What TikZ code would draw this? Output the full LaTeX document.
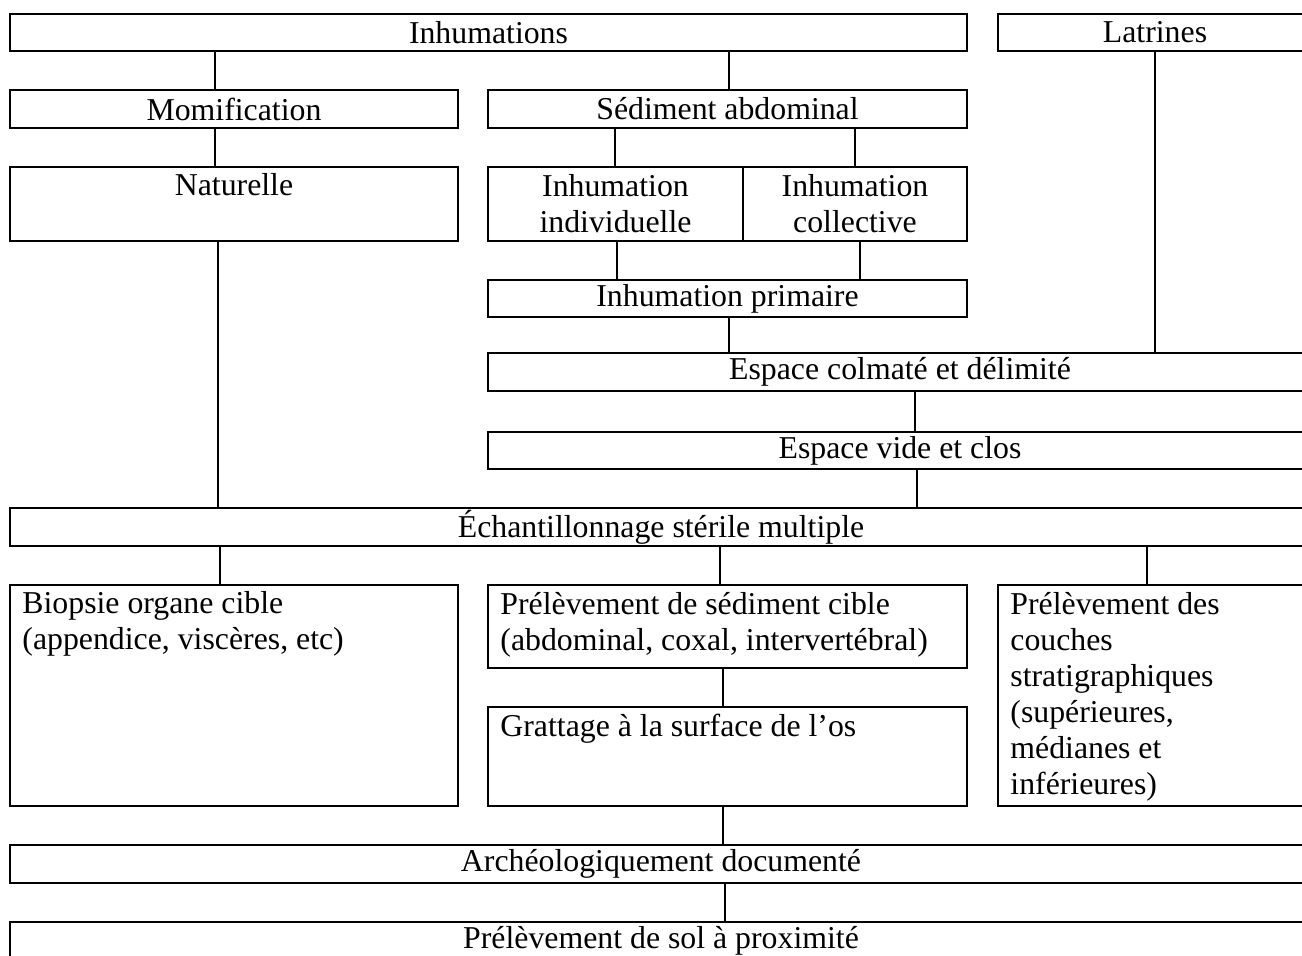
\documentclass[tikz,border=0pt]{standalone}
\usepackage{fontspec}
\setmainfont{Liberation Serif}

\begin{document}
\begin{tikzpicture}[
  x=0.02cm, y=-0.02cm,
  every node/.style={font=\fontsize{18.1}{20.5}\selectfont},
  box/.style={rectangle, draw=black, line width=1.1pt, inner sep=0pt, align=center, minimum height=0.75cm},
  boxtext/.style={anchor=north west, align=left, inner xsep=0.26cm, inner ysep=0.15cm},
  toptext/.style={anchor=north, align=center, inner ysep=0.15cm},
  link/.style={draw=black, line width=0.6pt},
]
\useasboundingbox (0,0) rectangle (1302,956);
\clip (0,0) rectangle (1302,956);

% Top row
\node[box, minimum width=19.14cm] (inh) at (488.5,32.5) {Inhumations};
\node[box, minimum width=6.28cm] (lat) at (1155,32.5) {Latrines};

\node[box, minimum width=8.96cm] (mom) at (234,109) {Momification};
\node[box, minimum width=9.58cm] (sed) at (727.5,109) {Sédiment abdominal};

\node[box, minimum width=8.96cm, minimum height=1.48cm] (nat) at (234,204) {};
\node[toptext] (natlab) at (nat.north) {Naturelle};
\node[box, minimum width=5.1cm, minimum height=1.48cm] (indiv) at (615.5,204) {Inhumation\\individuelle};
\node[box, minimum width=4.48cm, minimum height=1.48cm] (coll) at (855,204) {Inhumation\\collective};

\node[box, minimum width=9.58cm] (prim) at (727.5,298.5) {Inhumation primaire};

% Middle: spaces
\node[box, minimum width=16.48cm] (colm) at (900,372) {Espace colmaté et délimité};
\node[box, minimum width=16.48cm] (vide) at (900,450.5) {Espace vide et clos};

\node[box, minimum width=26.04cm] (ech) at (661,527) {Échantillonnage stérile multiple};

% Sampling boxes
\node[box, minimum width=8.96cm, minimum height=4.42cm] (biop) at (234,695.5) {};
\node[boxtext] (bioplab) at (biop.north west) {Biopsie organe cible\\(appendice, viscères, etc)};
\node[box, minimum width=9.58cm, minimum height=1.66cm] (sedc) at (727.5,626.5) {};
\node[boxtext] (sedclab) at (sedc.north west) {Prélèvement de sédiment cible\\(abdominal, coxal, intervertébral)};
\node[box, minimum width=9.58cm, minimum height=1.98cm] (gratt) at (727.5,756.5) {};
\node[boxtext] (grattlab) at (gratt.north west) {Grattage à la surface de l’os};
\node[box, minimum width=6.28cm, minimum height=4.42cm] (couch) at (1155,695.5) {};
\node[boxtext] (couchlab) at (couch.north west) {Prélèvement des\\couches\\stratigraphiques\\(supérieures,\\médianes et\\inférieures)};

% Bottom
\node[box, minimum width=26.04cm] (arch) at (661,864) {Archéologiquement documenté};
\node[box, minimum width=26.04cm] (sol) at (661,941) {Prélèvement de sol à proximité};

% Connectors
\draw[link] (215,0 |- inh.south) -- (215,0 |- mom.north);
\draw[link] (729,0 |- inh.south) -- (729,0 |- sed.north);
\draw[link] (1155,0 |- lat.south) -- (1155,0 |- colm.north);
\draw[link] (215,0 |- mom.south) -- (215,0 |- nat.north);
\draw[link] (615,0 |- sed.south) -- (615,0 |- indiv.north);
\draw[link] (855,0 |- sed.south) -- (855,0 |- coll.north);
\draw[link] (218,0 |- nat.south) -- (218,0 |- ech.north);
\draw[link] (617,0 |- indiv.south) -- (617,0 |- prim.north);
\draw[link] (860,0 |- coll.south) -- (860,0 |- prim.north);
\draw[link] (729,0 |- prim.south) -- (729,0 |- colm.north);
\draw[link] (915,0 |- colm.south) -- (915,0 |- vide.north);
\draw[link] (917,0 |- vide.south) -- (917,0 |- ech.north);
\draw[link] (220,0 |- ech.south) -- (220,0 |- biop.north);
\draw[link] (720,0 |- ech.south) -- (720,0 |- sedc.north);
\draw[link] (1147,0 |- ech.south) -- (1147,0 |- couch.north);
\draw[link] (723,0 |- sedc.south) -- (723,0 |- gratt.north);
\draw[link] (723,0 |- gratt.south) -- (723,0 |- arch.north);
\draw[link] (725,0 |- arch.south) -- (725,0 |- sol.north);

\end{tikzpicture}
\end{document}
